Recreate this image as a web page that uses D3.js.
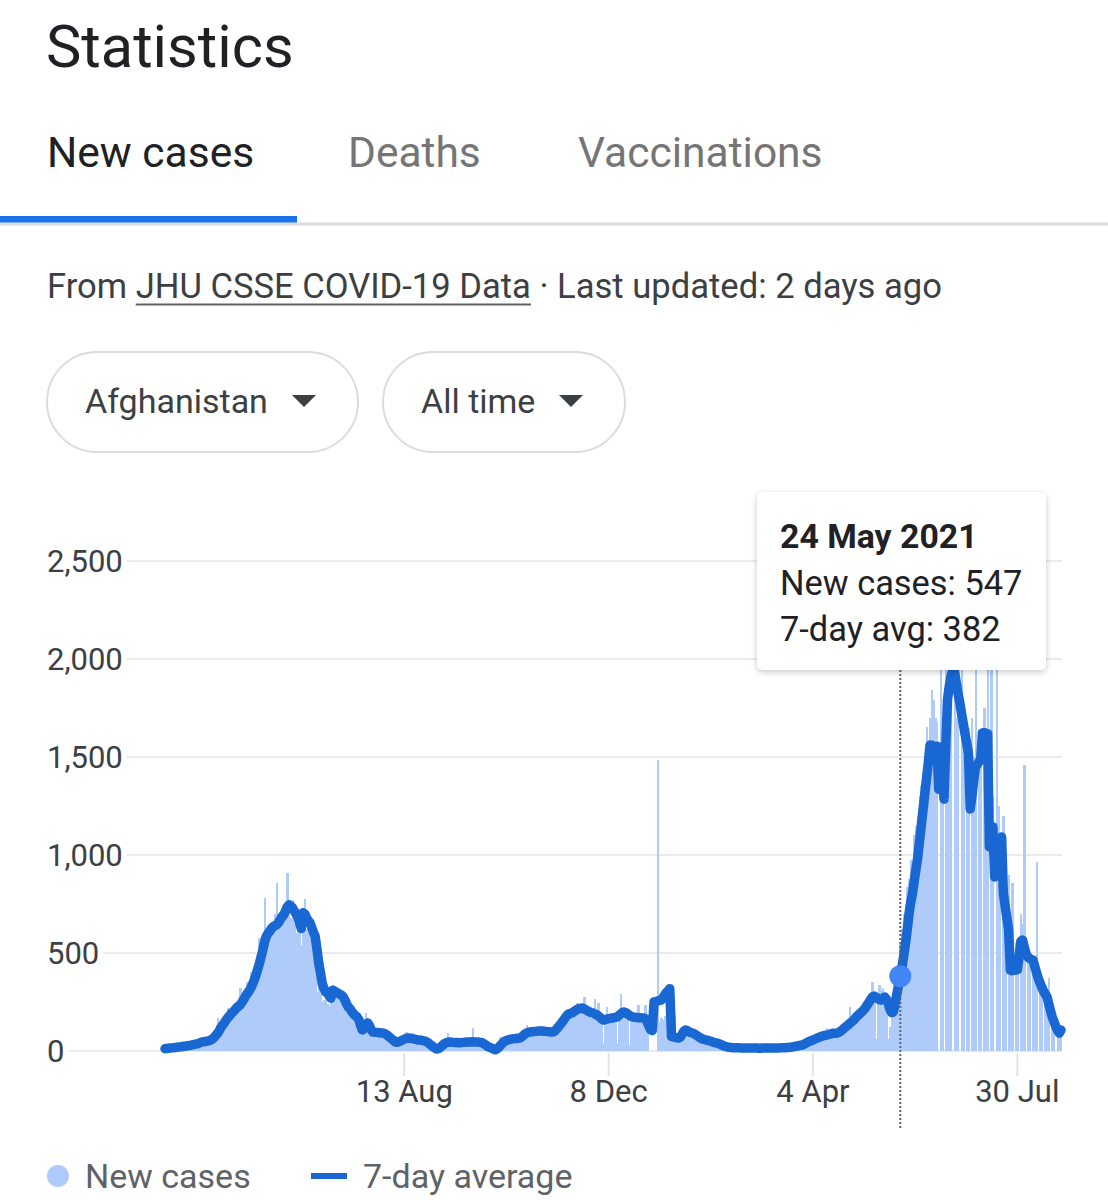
<!DOCTYPE html>
<html><head><meta charset="utf-8">
<script src="https://cdn.jsdelivr.net/npm/d3@7"></script>
<style>
body{margin:0;background:#fff;}
svg{display:block;font-family:Roboto,"Noto Sans",Arial,sans-serif;}
</style>
</head><body>
<svg id="chart" width="1108" height="1200"></svg>
<script>
// ---------- DATA ----------
const startDate = "2020-03-29"; // first day of the series, one value per day
const newCases = [
  8,15,20,12,19,22,18,
  26,18,30,22,28,25,32,
  35,30,38,33,40,46,44,
  48,52,40,55,58,50,66,
  70,90,168,110,125,140,150,
  160,219,170,185,200,190,230,
  200,321,240,280,250,352,290,
  403,300,380,420,360,577,480,
  540,780,550,620,580,660,610,
  700,857,620,640,720,690,740,
  908,720,680,770,650,600,640,
  600,540,700,775,620,640,653,
  653,500,560,300,380,350,250,
  260,280,240,230,250,337,290,
  301,270,260,300,240,230,210,
  230,180,210,170,194,160,150,
  100,80,150,194,120,110,90,
  90,110,80,97,100,70,95,
  97,60,70,55,65,40,50,
  50,60,45,70,55,97,60,
  70,50,92,55,48,60,52,
  50,45,60,40,30,20,25,
  10,5,20,35,40,45,55,
  50,92,40,45,38,50,42,
  40,45,48,50,42,40,44,
  50,117,42,44,48,40,38,
  30,20,15,18,10,12,5,
  20,35,45,71,60,55,60,
  58,60,65,62,70,60,66,
  70,95,90,85,133,100,95,
  100,95,105,110,98,100,105,
  95,90,122,85,100,92,110,
  130,140,170,160,180,200,190,
  200,210,190,230,215,245,205,
  220,210,276,180,200,190,170,
  180,265,170,245,160,150,40,
  170,224,165,180,160,150,170,
  40,200,291,210,190,185,180,
  30,180,175,190,165,235,170,
  165,160,235,120,0,0,0,
  0,0,1485,150,170,160,180,
  170,165,150,80,70,184,60,
  60,90,120,110,130,95,100,
  90,80,85,70,65,60,55,
  58,50,55,45,48,40,42,
  40,35,30,28,25,20,22,
  18,20,15,17,16,14,18,
  15,14,16,15,12,18,15,
  14,16,15,13,15,17,35,
  16,14,15,16,14,15,16,
  15,17,16,18,15,19,18,
  20,18,22,25,28,24,30,
  32,35,45,50,48,55,60,
  55,70,65,80,75,85,80,
  80,117,85,90,117,88,92,
  95,100,115,120,130,125,140,
  224,150,160,180,170,190,200,
  210,215,230,240,260,280,352,
  290,60,260,337,310,320,290,
  200,60,120,180,250,300,400,
  450,547,620,700,750,837,880,
  974,950,1100,1150,1200,1300,1350,
  1400,1500,1653,1550,1700,1842,1791,
  1700,1680,0,2350,1650,0,2450,
  1900,1800,1950,0,2050,1700,1850,
  0,2400,1750,0,1600,1650,0,
  1700,1500,2300,0,1600,1450,0,
  1750,1500,2350,0,2150,1300,0,
  2200,1250,1100,0,1200,1000,0,
  900,600,857,0,550,500,0,
  700,650,1459,0,450,500,0,
  400,420,964,0,330,300,0,
  280,250,372,0,150,140,0,
  120,100,130
];
const sevenDayAvg = [
  12,13,14,15,16,17,18,
  19,20,21,23,24,25,27,
  28,30,32,34,36,38,42,
  46,47,48,50,52,55,60,
  68,78,90,102,120,132,145,
  158,170,180,192,200,210,220,
  228,235,248,262,278,292,305,
  318,338,360,385,415,445,480,
  515,555,585,600,612,625,635,
  640,645,655,670,685,695,715,
  735,745,740,730,715,700,685,
  655,625,705,700,680,665,655,
  630,605,585,520,450,400,345,
  320,302,295,282,270,310,305,
  300,295,290,285,276,260,240,
  224,215,200,190,180,173,160,
  130,107,115,130,143,130,110,
  97,96,95,94,93,92,92,
  88,82,75,68,60,52,46,
  45,48,52,56,60,64,66,
  66,64,62,60,58,56,56,
  54,52,50,46,40,32,25,
  18,12,10,14,22,30,38,
  42,45,46,45,44,44,43,
  42,42,43,44,45,46,46,
  46,47,46,46,46,45,44,
  40,35,28,22,18,15,10,
  6,10,18,28,38,46,52,
  56,58,60,62,63,64,65,
  66,70,78,86,92,95,97,
  98,99,100,101,102,102,102,
  101,100,99,98,97,97,100,
  110,120,132,143,155,168,180,
  188,192,194,200,206,212,216,
  218,219,215,210,205,200,196,
  194,190,185,180,172,165,158,
  160,163,165,167,168,170,172,
  175,182,190,197,199,195,188,
  182,176,173,172,171,170,170,
  169,168,165,150,128,108,105,
  250,252,255,258,260,270,285,
  298,306,318,75,72,70,68,
  66,70,85,100,107,104,98,
  94,92,88,82,76,70,65,
  60,58,56,54,51,48,45,
  42,41,38,34,30,26,23,
  20,19,18,17,17,16,16,
  16,15,15,15,15,15,15,
  15,15,15,15,14,14,15,
  15,15,15,15,15,15,15,
  15,15,16,16,17,17,18,
  18,19,20,22,24,26,28,
  30,31,35,40,45,49,53,
  56,60,64,68,72,75,78,
  80,82,84,87,89,90,91,
  92,96,102,110,118,125,133,
  140,148,155,165,175,184,192,
  200,210,220,235,248,262,276,
  280,275,268,262,260,266,276,
  265,245,215,196,200,240,290,
  335,382,430,490,551,620,700,
  760,806,870,930,990,1070,1150,
  1230,1310,1390,1469,1561,1560,1555,
  1551,1555,1335,1550,1548,1285,1550,
  1791,1860,1910,1944,1940,1880,1827,
  1780,1725,1673,1620,1570,1520,1235,
  1300,1380,1449,1460,1475,1485,1622,
  1625,1620,1618,1041,1100,1143,888,
  960,1030,1080,1092,806,740,680,
  617,413,410,412,413,415,480,
  560,566,530,495,480,472,468,
  464,430,400,370,347,325,305,
  290,276,240,205,173,150,125,
  105,92,107
];
const yTicks = [0, 500, 1000, 1500, 2000, 2500];
const xTickDates = ["2020-08-13", "2020-12-08", "2021-04-04", "2021-07-30"];
const xTickLabels = ["13 Aug", "8 Dec", "4 Apr", "30 Jul"];
const tabs = ["New cases", "Deaths", "Vaccinations"];
const filters = ["Afghanistan", "All time"];
const legendLabels = ["New cases", "7-day average"];
const tooltipDate = "2021-05-24";
const tooltipTitle = "24 May 2021";
const tooltipNewCases = 547;
const tooltipAvg = 382;

// ---------- BUILD ----------
const svg = d3.select("#chart");
const parse = d3.utcParse("%Y-%m-%d");
const start = parse(startDate);
const days = newCases.map((v, i) => ({
  date: d3.utcDay.offset(start, i), cases: v, avg: sevenDayAvg[i]
}));
const x = d3.scaleUtc()
  .domain([start, days[days.length - 1].date])
  .range([165, 1061]);
const y = d3.scaleLinear().domain([0, 2500]).range([1051, 561]);

const defs = svg.append("defs");
const f = defs.append("filter").attr("id", "shadow")
  .attr("x", "-10%").attr("y", "-10%").attr("width", "120%").attr("height", "130%");
f.append("feDropShadow").attr("dx", 0).attr("dy", 2).attr("stdDeviation", 3)
  .attr("flood-color", "#000").attr("flood-opacity", 0.22);

// Title
svg.append("text").attr("x", 46).attr("y", 67).text("Statistics")
  .attr("font-size", 59.5).attr("fill", "#202124");

// Tabs
const tabX = [47, 348, 578];
tabs.forEach((t, i) => {
  svg.append("text").attr("x", tabX[i]).attr("y", 167).text(t)
    .attr("font-size", 42.5)
    .attr("fill", i === 0 ? "#202124" : "#757575");
});
svg.append("rect").attr("x", 0).attr("y", 222.5).attr("width", 1108).attr("height", 3).attr("fill", "#dadce0");
svg.append("rect").attr("x", 0).attr("y", 216).attr("width", 297).attr("height", 6.5).attr("fill", "#1a73e8");

// Source line
const src = svg.append("text").attr("x", 47).attr("y", 298)
  .attr("font-size", 34.6).attr("fill", "#3c4043");
src.append("tspan").text("From ");
src.append("tspan").text("JHU CSSE COVID-19 Data");
src.append("tspan").text(" · Last updated: 2 days ago");
{
  const n = src.node();
  const s = n.getStartPositionOfChar(5).x;
  const e = n.getEndPositionOfChar(26).x;
  svg.append("line").attr("x1", s).attr("x2", e).attr("y1", 304.5).attr("y2", 304.5)
    .attr("stroke", "#5f6368").attr("stroke-width", 2);
}

// Filter pills
const pills = [{x: 47, w: 311}, {x: 383, w: 242}];
filters.forEach((t, i) => {
  const p = pills[i];
  svg.append("rect").attr("x", p.x).attr("y", 352).attr("width", p.w).attr("height", 100)
    .attr("rx", 50).attr("fill", "#fff").attr("stroke", "#dadce0").attr("stroke-width", 2);
  svg.append("text").attr("x", p.x + 38).attr("y", 413).text(t)
    .attr("font-size", 34).attr("fill", "#3c4043");
  const cx = p.x + p.w - 54;
  svg.append("path").attr("d", `M${cx - 12},395 L${cx + 12},395 L${cx},407 Z`).attr("fill", "#3c4043");
});

// Y gridlines + labels
const yAxisG = svg.append("g");
yTicks.forEach(t => {
  const lbl = yAxisG.append("text").attr("x", 47).attr("y", y(t) + 11)
    .text(d3.format(",")(t)).attr("font-size", 31).attr("fill", "#3c4043");
  const w = lbl.node().getComputedTextLength();
  yAxisG.insert("line", "text").attr("x1", 47 + w + 4).attr("x2", 1062)
    .attr("y1", y(t)).attr("y2", y(t))
    .attr("stroke", "#ebebeb").attr("stroke-width", 2);
});

// X ticks + labels
xTickDates.forEach((d, i) => {
  const xx = x(parse(d));
  svg.append("line").attr("x1", xx).attr("x2", xx).attr("y1", 1053).attr("y2", 1076)
    .attr("stroke", "#e3e3e3").attr("stroke-width", 2);
  svg.append("text").attr("x", xx).attr("y", 1102).attr("text-anchor", "middle")
    .text(xTickLabels[i]).attr("font-size", 31).attr("fill", "#3c4043");
});

// Bars (new cases)
const step = x(d3.utcDay.offset(start, 1)) - x(start);
svg.append("g").attr("shape-rendering", "crispEdges")
  .selectAll("rect").data(days).join("rect")
  .attr("x", d => x(d.date) - step / 2)
  .attr("width", step + 0.6)
  .attr("y", d => y(d.cases))
  .attr("height", d => y(0) - y(d.cases))
  .attr("fill", "#aecbfa");

// 7-day average line
const line = d3.line().x(d => x(d.date)).y(d => y(d.avg));
svg.append("path").datum(days).attr("d", line)
  .attr("fill", "none").attr("stroke", "#1967d2").attr("stroke-width", 9.5)
  .attr("stroke-linejoin", "round").attr("stroke-linecap", "round");

// Hover marker
const tx = x(parse(tooltipDate));
svg.append("line").attr("x1", tx).attr("x2", tx).attr("y1", 670).attr("y2", 1130)
  .attr("stroke", "#5f6368").attr("stroke-width", 2).attr("stroke-dasharray", "2,2");
svg.append("circle").attr("cx", tx).attr("cy", y(tooltipAvg)).attr("r", 11).attr("fill", "#4285f4");

// Tooltip
const tip = svg.append("g");
tip.append("rect").attr("x", 757).attr("y", 492).attr("width", 289).attr("height", 178)
  .attr("rx", 6).attr("fill", "#fff").attr("filter", "url(#shadow)");
tip.append("text").attr("x", 780).attr("y", 548).text(tooltipTitle)
  .attr("font-size", 33.8).attr("font-weight", "bold").attr("fill", "#202124");
tip.append("text").attr("x", 780).attr("y", 595).text("New cases: " + tooltipNewCases)
  .attr("font-size", 34.4).attr("fill", "#202124");
tip.append("text").attr("x", 780).attr("y", 641).text("7-day avg: " + tooltipAvg)
  .attr("font-size", 34.4).attr("fill", "#202124");

// Legend
svg.append("circle").attr("cx", 58).attr("cy", 1176).attr("r", 11).attr("fill", "#aecbfa");
svg.append("text").attr("x", 85).attr("y", 1188).text(legendLabels[0])
  .attr("font-size", 34).attr("fill", "#5f6368");
svg.append("line").attr("x1", 311).attr("x2", 347).attr("y1", 1176).attr("y2", 1176)
  .attr("stroke", "#1967d2").attr("stroke-width", 6);
svg.append("text").attr("x", 363).attr("y", 1188).text(legendLabels[1])
  .attr("font-size", 34).attr("fill", "#5f6368");
</script>
</body></html>
